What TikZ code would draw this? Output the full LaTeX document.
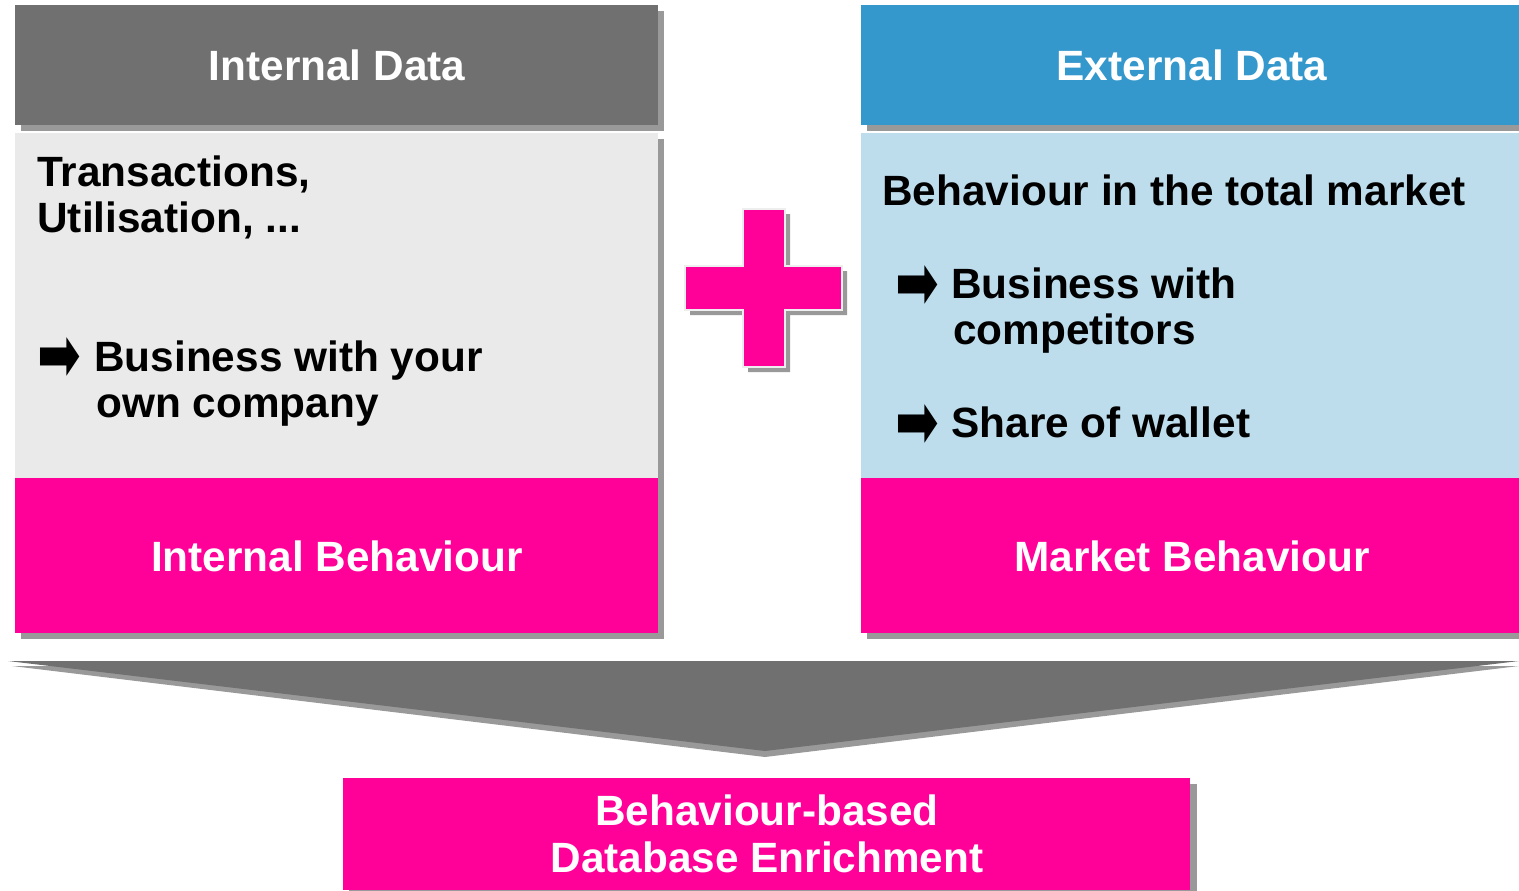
\documentclass[tikz,border=0pt]{standalone}
\usepackage{fontspec}
\setmainfont{Liberation Sans}
\newfontfamily\symfont{DejaVu Sans}
\definecolor{hdrgray}{HTML}{707070}
\definecolor{shadowgray}{HTML}{999999}
\definecolor{bodygray}{HTML}{EAEAEA}
\definecolor{hotpink}{HTML}{FF0099}
\definecolor{hdrblue}{HTML}{3598CC}
\definecolor{bodyblue}{HTML}{BDDDED}
\definecolor{crossedge}{HTML}{EEEEEE}
\newcommand{\bigarrowsym}{\scalebox{1.1}[1.65]{➡}}
\tikzset{
  box/.style={rectangle, inner sep=0pt, outer sep=0pt},
  shad/.style={fill=shadowgray, draw=none},
  whitetxt/.style={text=white, inner sep=0pt, font=\fontsize{24.1}{26}\selectfont\bfseries},
  blacktxt/.style={text=black, inner sep=0pt, font=\fontsize{24.1}{26}\selectfont\bfseries, align=left},
  arrowsym/.style={text=black, inner sep=0pt, font=\fontsize{27}{28}\selectfont\symfont},
}
\begin{document}
\begin{tikzpicture}[x=0.02cm,y=-0.02cm]
\useasboundingbox (0,0) rectangle (1519,890);
\fill[white] (0,0) rectangle (1519,890);

% ---- left column ----
\fill[shad] (21,11) rectangle (664,131);
\fill[hdrgray] (15,5) rectangle (658,125);
\node[box] (lhdr) at (336.5,65) {};
\fill[shad] (21,139) rectangle (664,495);
\fill[bodygray] (15,133) rectangle (658,478);
\node[box] (lbody) at (336.5,305) {};
\fill[shad] (21,484) rectangle (664,639);
\fill[hotpink] (15,478) rectangle (658,633);
\node[box] (lpink) at (336.5,555) {};

\node[whitetxt, anchor=base] (t1) at (337,80) {Internal Data};
\node[blacktxt, anchor=base west] (t2) at (37,186) {Transactions,};
\node[blacktxt, anchor=base west] (t3) at (37,232) {Utilisation, ...};
\node[arrowsym, anchor=west] (a1) at (37,360) {\bigarrowsym};
\node[blacktxt, anchor=base west] (t4) at (94,371) {Business with your};
\node[blacktxt, anchor=base west] (t5) at (96,417) {own company};
\node[whitetxt, anchor=base] (t6) at (337,571) {Internal Behaviour};

% ---- right column ----
\fill[shad] (867,11) rectangle (1525,131);
\fill[hdrblue] (861,5) rectangle (1519,125);
\node[box] (rhdr) at (1190,65) {};
\fill[shad] (867,139) rectangle (1525,495);
\fill[bodyblue] (861,133) rectangle (1519,478);
\node[box] (rbody) at (1190,305) {};
\fill[shad] (867,484) rectangle (1525,639);
\fill[hotpink] (861,478) rectangle (1519,633);
\node[box] (rpink) at (1190,555) {};

\node[whitetxt, anchor=base] (u1) at (1192,80) {External Data};
\node[blacktxt, anchor=base west] (u2) at (882,205) {Behaviour in the total market};
\node[arrowsym, anchor=west] (a2) at (895,288) {\bigarrowsym};
\node[blacktxt, anchor=base west] (u3) at (951,298) {Business with};
\node[blacktxt, anchor=base west] (u4) at (953,344) {competitors};
\node[arrowsym, anchor=west] (a3) at (895,427) {\bigarrowsym};
\node[blacktxt, anchor=base west] (u5) at (951,437) {Share of wallet};
\node[whitetxt, anchor=base] (u6) at (1192,571) {Market Behaviour};

% ---- plus sign ----
\fill[shad, shift={(5,5)}] (743,209) -- (785,209) -- (785,266) -- (842,266) -- (842,310)
  -- (785,310) -- (785,367) -- (743,367) -- (743,310) -- (685,310) -- (685,266) -- (743,266) -- cycle;
\filldraw[fill=hotpink, draw=crossedge, line width=1.5pt] (743,209) -- (785,209) -- (785,266) -- (842,266) -- (842,310)
  -- (785,310) -- (785,367) -- (743,367) -- (743,310) -- (685,310) -- (685,266) -- (743,266) -- cycle;
\node[box] (plus) at (764,288) {};

% ---- funnel triangle ----
\fill[shad] (12,666) -- (1519,666) -- (765,757) -- cycle;
\fill[hdrgray] (8,661) -- (1519,661) -- (765,751) -- cycle;
\node[box] (funnel) at (765,690) {};

% ---- result box ----
\fill[shad] (349,784) rectangle (1197,896);
\fill[hotpink] (343,778) rectangle (1190,890);
\node[box] (result) at (766.5,834) {};
\node[whitetxt, anchor=base] (v1) at (767,825) {Behaviour-based};
\node[whitetxt, anchor=base] (v2) at (767,872) {Database Enrichment};
\end{tikzpicture}
\end{document}
